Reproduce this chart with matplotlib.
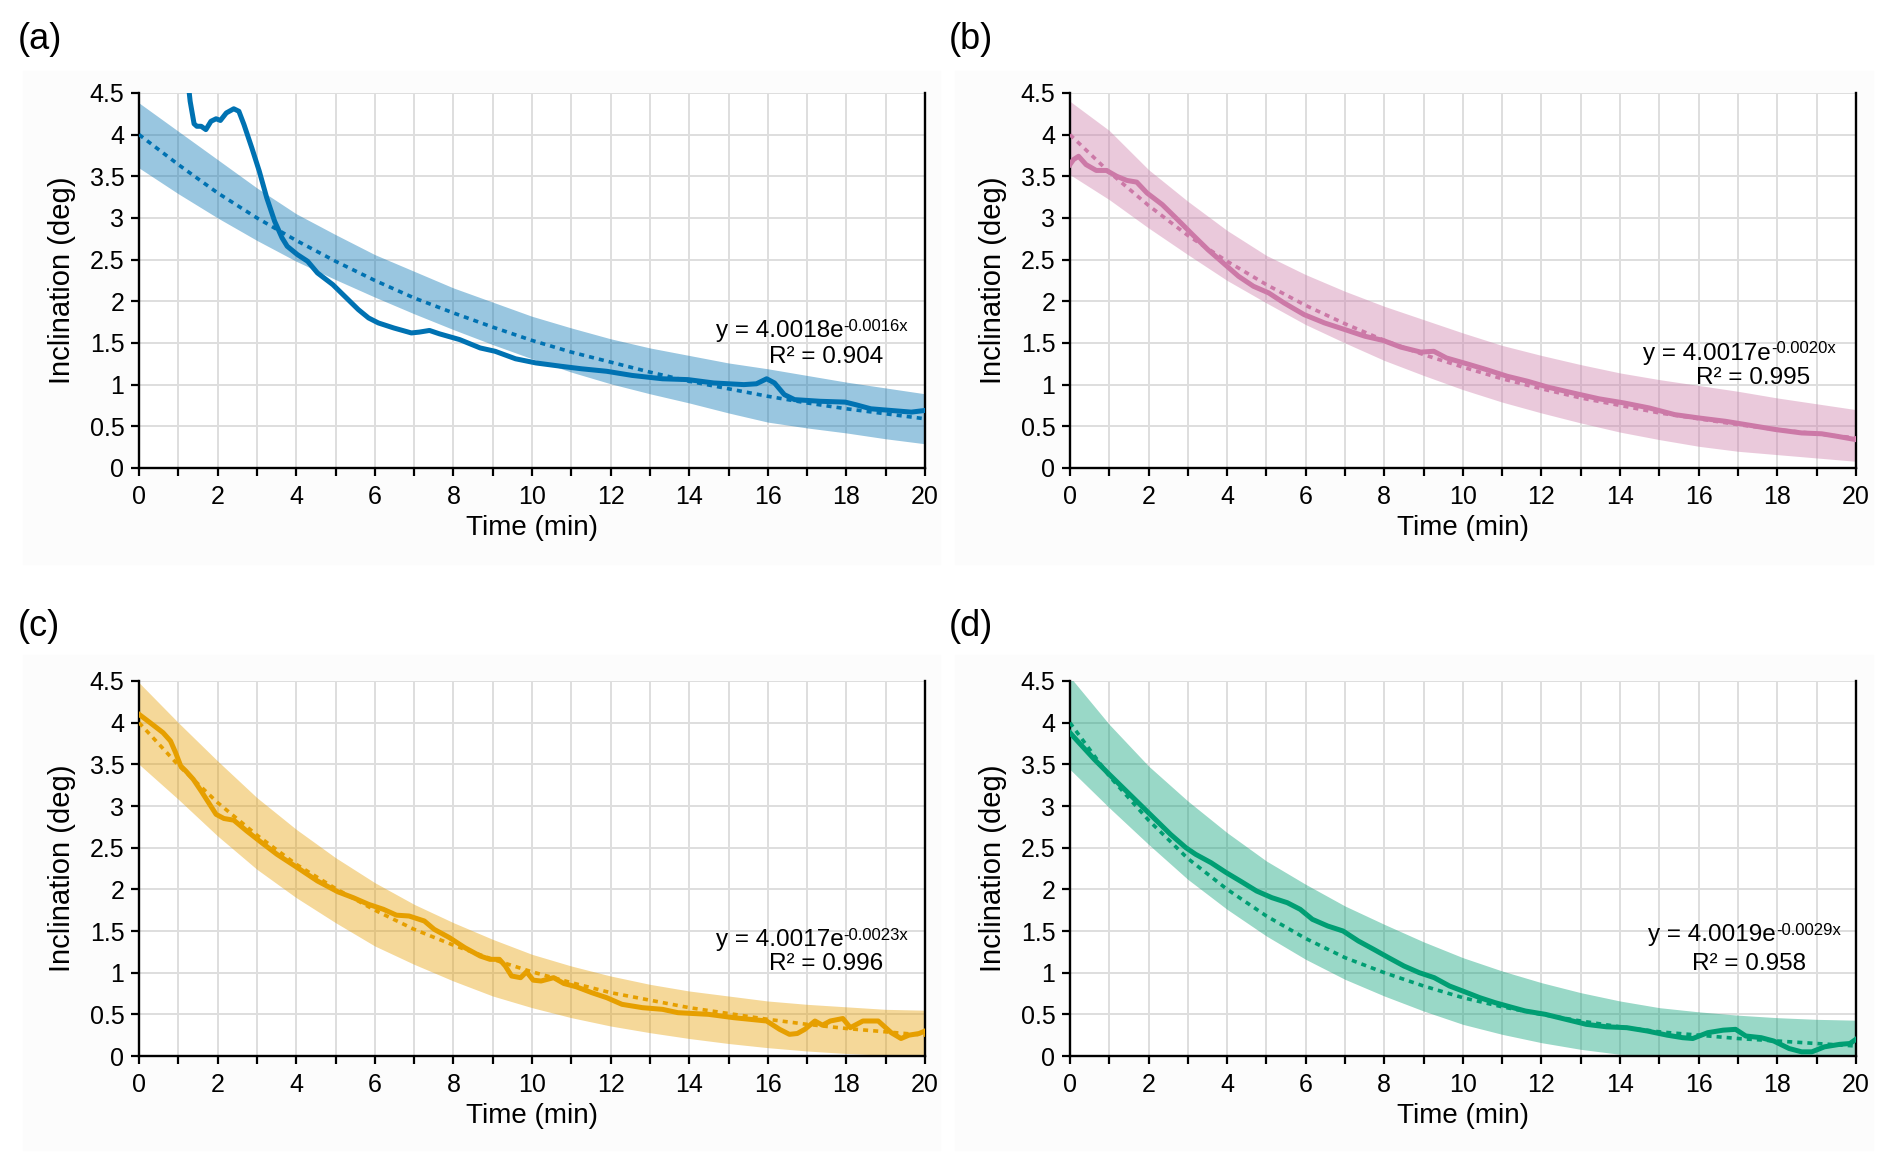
import matplotlib
matplotlib.use("Agg")
import matplotlib.pyplot as plt
from matplotlib.patches import Rectangle

plt.rcParams['font.family'] = ['Liberation Sans', 'DejaVu Sans']

# trendline and band values at whole minutes
minutes = list(range(21))

# (a)
a_time = [1.22, 1.30, 1.40, 1.47, 1.58, 1.70, 1.83, 1.96, 2.07, 2.22, 2.41, 2.54, 2.67,
          2.87, 3.06, 3.25, 3.45, 3.64, 3.77, 4.03, 4.29, 4.54, 4.93, 5.32, 5.58, 5.84,
          6.09, 6.48, 6.93, 7.13, 7.39, 7.64, 8.16, 8.68, 9.06, 9.58, 10.10, 10.74, 11.26,
          11.90, 12.55, 13.32, 13.97, 14.62, 15.39, 15.71, 15.97, 16.17, 16.42, 16.68,
          17.33, 17.97, 18.23, 18.62, 19.13, 19.65, 20.0]
a_incl = [4.75, 4.40, 4.13, 4.10, 4.10, 4.06, 4.16, 4.19, 4.17, 4.26, 4.31, 4.28, 4.12,
          3.84, 3.56, 3.24, 2.96, 2.76, 2.66, 2.56, 2.48, 2.34, 2.20, 2.02, 1.90, 1.80,
          1.74, 1.68, 1.62, 1.63, 1.65, 1.61, 1.54, 1.44, 1.40, 1.31, 1.26, 1.22, 1.19,
          1.16, 1.11, 1.07, 1.06, 1.02, 1.00, 1.01, 1.07, 1.02, 0.88, 0.82,
          0.80, 0.79, 0.76, 0.71, 0.69, 0.67, 0.69]
a_fit = [4.00, 3.64, 3.30, 3.00, 2.73, 2.48, 2.25, 2.04, 1.86, 1.69, 1.53, 1.39, 1.27,
         1.15, 1.04, 0.95, 0.86, 0.78, 0.71, 0.65, 0.59]
a_upper = [4.38, 4.04, 3.70, 3.36, 3.05, 2.80, 2.56, 2.36, 2.16, 1.99, 1.82, 1.68, 1.55,
           1.44, 1.35, 1.26, 1.19, 1.11, 1.03, 0.96, 0.89]
a_lower = [3.60, 3.29, 3.00, 2.73, 2.48, 2.26, 2.05, 1.85, 1.66, 1.48, 1.31, 1.15, 1.01,
           0.89, 0.78, 0.66, 0.55, 0.48, 0.42, 0.35, 0.29]

# (b)
b_time = [0.0, 0.09, 0.22, 0.41, 0.67, 0.93, 1.19, 1.45, 1.70, 1.96, 2.35, 2.74, 3.12,
          3.51, 3.90, 4.29, 4.67, 5.06, 5.45, 5.96, 6.48, 7.0, 7.51, 7.97, 8.42, 8.93,
          9.26, 9.58, 10.1, 10.6, 11.13, 11.65, 12.16, 12.8, 13.46, 14.1, 14.74, 15.39,
          16.0, 16.68, 17.33, 17.97, 18.62, 19.13, 19.52, 20.0]
b_incl = [3.64, 3.70, 3.74, 3.64, 3.57, 3.57, 3.50, 3.45, 3.43, 3.30, 3.16, 2.98, 2.80,
          2.62, 2.46, 2.30, 2.18, 2.10, 1.98, 1.84, 1.74, 1.66, 1.58, 1.53, 1.45, 1.39,
          1.40, 1.32, 1.25, 1.18, 1.10, 1.04, 0.97, 0.90, 0.83, 0.78, 0.72, 0.64,
          0.60, 0.56, 0.51, 0.46, 0.42, 0.41, 0.38, 0.34]
b_fit = [4.00, 3.55, 3.15, 2.79, 2.48, 2.20, 1.95, 1.73, 1.53, 1.36, 1.21, 1.07, 0.95,
         0.84, 0.75, 0.66, 0.59, 0.52, 0.46, 0.41, 0.36]
b_upper = [4.40, 4.05, 3.58, 3.20, 2.85, 2.55, 2.32, 2.12, 1.94, 1.78, 1.62, 1.47, 1.35,
           1.24, 1.14, 1.06, 0.99, 0.92, 0.84, 0.77, 0.70]
b_lower = [3.52, 3.22, 2.88, 2.56, 2.25, 1.98, 1.72, 1.50, 1.29, 1.11, 0.94, 0.79, 0.66,
           0.54, 0.43, 0.34, 0.26, 0.20, 0.16, 0.12, 0.08]

# (c)
c_time = [0.0, 0.28, 0.61, 0.80, 0.93, 1.06, 1.19, 1.38, 1.58, 1.77, 1.96, 2.16, 2.41,
          2.74, 3.12, 3.51, 4.03, 4.54, 5.06, 5.45, 5.84, 6.22, 6.55, 6.87, 7.26, 7.51,
          7.90, 8.29, 8.68, 8.93, 9.17, 9.32, 9.48, 9.71, 9.86, 10.03, 10.23, 10.55,
          10.81, 11.13, 11.52, 11.9, 12.29, 12.81, 13.32, 13.71, 14.49, 15.13, 15.97,
          16.3, 16.55, 16.75, 16.94, 17.2, 17.39, 17.59, 17.91, 18.1, 18.42, 18.81,
          19.14, 19.39, 19.59, 19.85, 20.0]
c_incl = [4.10, 4.00, 3.88, 3.78, 3.64, 3.48, 3.42, 3.32, 3.18, 3.04, 2.90, 2.85, 2.83,
          2.70, 2.56, 2.42, 2.26, 2.10, 1.97, 1.90, 1.82, 1.76, 1.69, 1.68, 1.62, 1.52,
          1.42, 1.30, 1.20, 1.16, 1.16, 1.08, 0.96, 0.94, 1.01, 0.91, 0.90, 0.94,
          0.87, 0.83, 0.76, 0.70, 0.62, 0.58, 0.56, 0.52, 0.50, 0.46, 0.42,
          0.32, 0.26, 0.27, 0.32, 0.42, 0.37, 0.42, 0.45, 0.34, 0.42, 0.42,
          0.28, 0.21, 0.25, 0.27, 0.30]
c_fit = [4.00, 3.49, 3.04, 2.65, 2.30, 2.01, 1.75, 1.52, 1.33, 1.16, 1.01, 0.88, 0.76,
         0.67, 0.58, 0.51, 0.44, 0.38, 0.33, 0.29, 0.25]
c_upper = [4.48, 4.00, 3.54, 3.10, 2.72, 2.38, 2.08, 1.82, 1.60, 1.40, 1.22, 1.08, 0.96,
           0.86, 0.78, 0.72, 0.66, 0.62, 0.59, 0.56, 0.55]
c_lower = [3.50, 3.08, 2.64, 2.24, 1.90, 1.60, 1.32, 1.10, 0.90, 0.72, 0.58, 0.46, 0.36,
           0.28, 0.21, 0.15, 0.10, 0.06, 0.03, 0.01, 0.0]

# (d)
d_time = [0.0, 0.23, 0.62, 1.0, 1.39, 1.78, 2.17, 2.56, 2.95, 3.2, 3.59, 3.98, 4.37,
          4.75, 5.14, 5.53, 5.86, 6.17, 6.56, 6.95, 7.34, 7.73, 8.11, 8.5, 8.89, 9.27,
          9.66, 10.05, 10.43, 10.82, 11.2, 11.59, 12.1, 12.62, 13.14, 13.66, 14.17,
          14.69, 15.2, 15.59, 15.85, 16.23, 16.62, 16.94, 17.2, 17.59, 17.91, 18.3,
          18.62, 18.88, 19.2, 19.59, 19.85, 20.0]
d_incl = [3.88, 3.76, 3.56, 3.38, 3.20, 3.02, 2.84, 2.66, 2.50, 2.42, 2.32, 2.20, 2.09,
          1.98, 1.90, 1.84, 1.76, 1.64, 1.56, 1.50, 1.38, 1.28, 1.18, 1.08, 1.00, 0.94,
          0.84, 0.77, 0.70, 0.64, 0.59, 0.54, 0.50, 0.44, 0.38, 0.35, 0.34,
          0.30, 0.25, 0.22, 0.21, 0.28, 0.31, 0.32, 0.24, 0.22, 0.18, 0.09,
          0.05, 0.05, 0.11, 0.14, 0.15, 0.20]
d_fit = [4.00, 3.36, 2.83, 2.37, 2.00, 1.68, 1.41, 1.18, 1.00, 0.84, 0.70, 0.59, 0.50,
         0.42, 0.35, 0.29, 0.25, 0.21, 0.18, 0.15, 0.12]
d_upper = [4.55, 3.98, 3.48, 3.06, 2.68, 2.34, 2.06, 1.80, 1.58, 1.37, 1.18, 1.02, 0.88,
           0.76, 0.66, 0.58, 0.53, 0.49, 0.46, 0.44, 0.43]
d_lower = [3.44, 2.98, 2.54, 2.12, 1.76, 1.44, 1.16, 0.92, 0.72, 0.54, 0.38, 0.26, 0.16,
           0.08, 0.02, 0.0, 0.0, 0.0, 0.0, 0.0, 0.0]

panel_tags = ['(a)', '(b)', '(c)', '(d)']
fit_coef = ['4.0018', '4.0017', '4.0017', '4.0019']
fit_exp = ['-0.0016x', '-0.0020x', '-0.0023x', '-0.0029x']
r_squared = ['0.904', '0.995', '0.996', '0.958']
colors = ['#0072B2', '#CC79A7', '#E69F00', '#009E73']

panels = [
    (a_time, a_incl, a_fit, a_upper, a_lower),
    (b_time, b_incl, b_fit, b_upper, b_lower),
    (c_time, c_incl, c_fit, c_upper, c_lower),
    (d_time, d_incl, d_fit, d_upper, d_lower),
]

# where things sit (figure fractions / data coords)
ax_rects = [[0.0735, 0.5952, 0.4154, 0.3244], [0.5655, 0.5952, 0.4154, 0.3244],
            [0.0735, 0.0865, 0.4154, 0.3244], [0.5655, 0.0865, 0.4154, 0.3244]]
tag_pos = [(0.0095, 0.966), (0.5015, 0.966), (0.0095, 0.458), (0.5015, 0.458)]
eq_pos = [(14.68, 1.64, 16.02, 1.33), (14.59, 1.37, 15.94, 1.08),
          (14.67, 1.39, 16.02, 1.10), (14.72, 1.45, 15.82, 1.10)]
bg_rects = [(0.012, 0.512, 0.485, 0.427), (0.505, 0.512, 0.485, 0.427),
            (0.012, 0.005, 0.485, 0.428), (0.505, 0.005, 0.485, 0.428)]

fig = plt.figure(figsize=(18.92, 11.56), dpi=100)

for i in range(4):
    t, y, fit, up, lo = panels[i]
    col = colors[i]

    fig.patches.append(Rectangle(bg_rects[i][:2], bg_rects[i][2], bg_rects[i][3],
                                 transform=fig.transFigure, color='#fcfcfc', zorder=-10))
    ax = fig.add_axes(ax_rects[i])
    ax.set_zorder(1)
    ax.set_facecolor('white')

    ax.fill_between(minutes, lo, up, color=col, alpha=0.4, lw=0, zorder=2)
    ax.plot(minutes, fit, color=col, lw=2.6, ls=(0, (1.4, 1.4)), zorder=3)
    ax.plot(t, y, color=col, lw=3.6, zorder=4, solid_joinstyle='round')

    ax.set_xlim(0, 20)
    ax.set_ylim(0, 4.5)
    ax.set_xticks(range(0, 21, 2))
    ax.set_xticks(range(0, 21), minor=True)
    ax.set_yticks([k * 0.5 for k in range(10)])
    ax.set_yticklabels(['0', '0.5', '1', '1.5', '2', '2.5', '3', '3.5', '4', '4.5'])
    ax.grid(True, which='both', color='#dedede', lw=1.4, zorder=1)
    ax.set_axisbelow(True)

    for side in ['left', 'bottom', 'right']:
        ax.spines[side].set_linewidth(1.7)
        ax.spines[side].set_color('black')
    ax.spines['top'].set_visible(False)

    ax.tick_params(axis='both', which='both', direction='out', length=5.5, width=1.6,
                   labelsize=18, colors='black')
    ax.tick_params(axis='x', pad=7)
    ax.tick_params(axis='y', pad=5)

    ax.set_xlabel('Time (min)', fontsize=20, labelpad=4)
    ax.set_ylabel('Inclination (deg)', fontsize=21, labelpad=10)

    ex, ey, rx, ry = eq_pos[i]
    eq = ax.text(ex, ey, 'y = ' + fit_coef[i] + 'e', fontsize=17.5, va='center',
                 ha='left', zorder=5)
    ax.annotate(fit_exp[i], xy=(1, 1), xycoords=eq, xytext=(0, 1),
                textcoords='offset points', fontsize=12, ha='left', va='top', zorder=5)
    ax.text(rx, ry, 'R² = ' + r_squared[i], fontsize=17.5, va='center', ha='left', zorder=5)

    fig.text(tag_pos[i][0], tag_pos[i][1], panel_tags[i], fontsize=26, va='center',
             ha='left')

fig.savefig('out.png', dpi=100, facecolor='white')
